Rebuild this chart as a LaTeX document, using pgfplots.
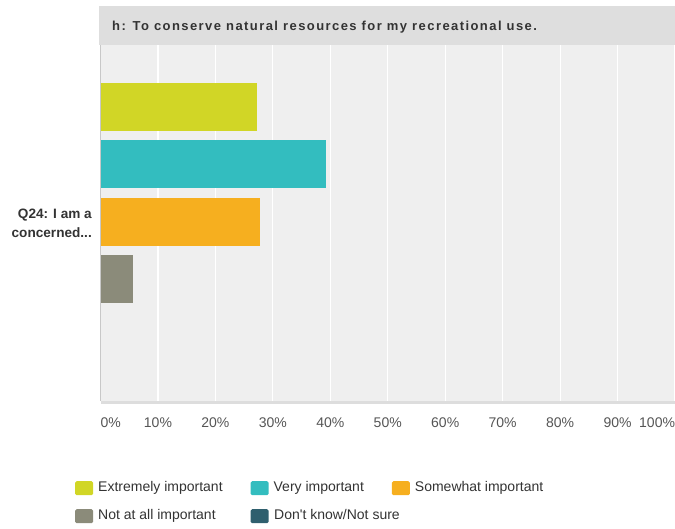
\documentclass[border=0pt]{standalone}
\usepackage{pgfplots}
\pgfplotsset{compat=1.18}
\usepackage{fontspec}
\setmainfont{Liberation Sans}
\definecolor{cExt}{RGB}{209,214,38}
\definecolor{cVery}{RGB}{51,189,191}
\definecolor{cSome}{RGB}{246,175,31}
\definecolor{cNot}{RGB}{139,139,122}
\definecolor{cDK}{RGB}{47,95,110}
\definecolor{bandgray}{RGB}{222,222,222}
\definecolor{plotbg}{RGB}{239,239,239}
\definecolor{txt}{RGB}{51,51,51}
\definecolor{ticktxt}{RGB}{85,85,85}
\begin{document}
\begin{tikzpicture}
\path[use as bounding box] (0,0) rectangle (675bp,529bp);
\fill[bandgray] (99bp,484bp) rectangle (675bp,523bp);
\node[anchor=west, inner sep=0, font=\fontsize{13bp}{15bp}\selectfont\bfseries\addfontfeatures{LetterSpace=11}, text=txt] at (112bp,502bp) {h: To conserve natural resources for my recreational use.};
\begin{axis}[
  at={(100.5bp,128bp)}, anchor=south west,
  scale only axis, width=574.5bp, height=356bp,
  xbar, xmin=0, xmax=100, ymin=-179, ymax=177,
  bar width=48bp,
  axis background/.style={fill=plotbg},
  axis line style={draw=none},
  xmajorgrids, grid style={white, line width=1.2bp},
  major tick length=0,
  xtick={0,10,20,30,40,50,60,70,80,90,100},
  xticklabels={\makebox[0pt][l]{0\%},10\%,20\%,30\%,40\%,50\%,60\%,70\%,80\%,90\%,\makebox[0pt][r]{100\%}},
  xticklabel style={font=\fontsize{14bp}{16bp}\selectfont, text=ticktxt, inner sep=0, anchor=north, yshift=-17bp},
  ytick={0},
  yticklabels={{Q24: I am a\\concerned.{}.{}.}},
  yticklabel style={align=right, font=\fontsize{13.6bp}{19bp}\selectfont\bfseries, text=txt, inner sep=0, xshift=-8.5bp, yshift=-1.5bp},
  extra description/.code={
    \draw[draw={rgb,255:red,221;green,221;blue,221}, line width=2.5bp] (0,0) ++(0,-1.25bp) -- ++(574.5bp,0);
    \draw[draw={rgb,255:red,200;green,200;blue,200}, line width=1.5bp] (0,0) -- (0,1);
  },
  legend columns=3,
  legend cell align=left,
  legend image code/.code={\fill[#1, rounded corners=1.5bp] (0bp,-7bp) rectangle (18bp,7bp);},
  legend style={at={(axis description cs:-0.0444,-0.2247)}, anchor=north west, draw=none, fill=none, inner sep=0, row sep=14bp,
    font=\fontsize{14bp}{16bp}\selectfont, text=txt,
    nodes={inner sep=0, text height=10bp, text depth=3bp},
    /tikz/every odd column/.append style={column sep=5bp},
    /tikz/every even column/.append style={column sep=28bp}},
]
\addplot[fill=cExt, draw=none, bar shift=115bp] coordinates {(27.27,0)};
\addlegendentry{Extremely important}
\addplot[fill=cVery, draw=none, bar shift=57.5bp] coordinates {(39.20,0)};
\addlegendentry{Very important}
\addplot[fill=cSome, draw=none, bar shift=0bp] coordinates {(27.84,0)};
\addlegendentry{Somewhat important}
\addplot[fill=cNot, draw=none, bar shift=-57.5bp] coordinates {(5.68,0)};
\addlegendentry{Not at all important}
\addplot[fill=cDK, draw=none, fill opacity=0, bar shift=-115bp, forget plot] coordinates {(0,0)};
\addlegendimage{fill=cDK, draw=none}
\addlegendentry{\makebox[0pt][l]{Don\textquotesingle t know/Not sure}}
\end{axis}
\end{tikzpicture}
\end{document}
